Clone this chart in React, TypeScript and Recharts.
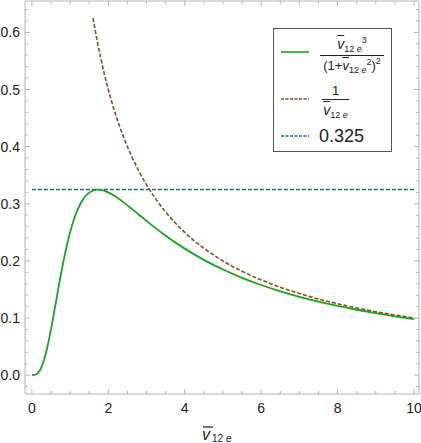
import React from "react";
import { LineChart, Line, XAxis, YAxis, Legend } from "recharts";

// values
const greenV = [0, 0.1, 0.2, 0.3, 0.4, 0.5, 0.6, 0.7, 0.8, 0.9, 1.0, 1.1, 1.2, 1.3, 1.4, 1.5, 1.6, 1.7, 1.8, 1.9, 2.0, 2.2, 2.4, 2.6, 2.8, 3.0, 3.5, 4.0, 4.5, 5.0, 5.5, 6.0, 6.5, 7.0, 7.5, 8.0, 8.5, 9.0, 9.5, 10];
const greenY = [0, 0.001, 0.0074, 0.0227, 0.0476, 0.08, 0.1168, 0.1545, 0.1904, 0.2225, 0.25, 0.2725, 0.2902, 0.3036, 0.3132, 0.3195, 0.3232, 0.3247, 0.3244, 0.3227, 0.32, 0.3122, 0.3025, 0.2919, 0.2809, 0.27, 0.2442, 0.2215, 0.2018, 0.1849, 0.1704, 0.1578, 0.1468, 0.1372, 0.1287, 0.1212, 0.1145, 0.1084, 0.103, 0.098];

const brownV = [1.6, 1.7, 1.8, 1.9, 2.0, 2.2, 2.4, 2.6, 2.8, 3.0, 3.25, 3.5, 3.75, 4.0, 4.5, 5.0, 5.5, 6.0, 6.5, 7.0, 7.5, 8.0, 8.5, 9.0, 9.5, 10];
const brownY = [0.625, 0.5882, 0.5556, 0.5263, 0.5, 0.4545, 0.4167, 0.3846, 0.3571, 0.3333, 0.3077, 0.2857, 0.2667, 0.25, 0.2222, 0.2, 0.1818, 0.1667, 0.1538, 0.1429, 0.1333, 0.125, 0.1176, 0.1111, 0.1053, 0.1];

const flatV = [0, 10];
const flatY = [0.325, 0.325];

const xTicks = [0, 0.5, 1, 1.5, 2, 2.5, 3, 3.5, 4, 4.5, 5, 5.5, 6, 6.5, 7, 7.5, 8, 8.5, 9, 9.5, 10];
const yTicks = [-0.02, 0, 0.02, 0.04, 0.06, 0.08, 0.1, 0.12, 0.14, 0.16, 0.18, 0.2, 0.22, 0.24, 0.26, 0.28, 0.3, 0.32, 0.34, 0.36, 0.38, 0.4, 0.42, 0.44, 0.46, 0.48, 0.5, 0.52, 0.54, 0.56, 0.58, 0.6, 0.62, 0.64];

const greenData = greenV.map((v, i) => ({ v, y: greenY[i] }));
const brownData = brownV.map((v, i) => ({ v, y: brownY[i] }));
const flatData = flatV.map((v, i) => ({ v, y: flatY[i] }));

const FRAME = "#b4b4b4";
const GREEN = "#1fa01f";
const BROWN = "#8b4a1a";
const TEAL = "#1d6b78";
const FONT = "'Liberation Sans', Arial, sans-serif";

const isMult = (v: number, step: number) => Math.abs(v / step - Math.round(v / step)) < 1e-6;

// side: which frame edge, ticks point into the plot
const FrameTick = (props: any) => {
  const { x, y, payload, side } = props;
  const v = payload.value;
  const major = side === "bottom" || side === "top" ? isMult(v, 2) : isMult(v, 0.1);
  const len = major ? 5 : 3;
  let line;
  let label = null;
  if (side === "bottom") {
    line = <line x1={x} y1={y} x2={x} y2={y - len} stroke={FRAME} />;
    if (major)
      label = (
        <text x={x} y={y + 14} textAnchor="middle" dominantBaseline="central" fontSize={14} fontFamily={FONT} fill="#222">
          {v}
        </text>
      );
  } else if (side === "top") {
    line = <line x1={x} y1={y} x2={x} y2={y + len} stroke={FRAME} />;
  } else if (side === "left") {
    line = <line x1={x} y1={y} x2={x + len} y2={y} stroke={FRAME} />;
    if (major && v >= 0)
      label = (
        <text x={x - 5} y={y} textAnchor="end" dominantBaseline="central" fontSize={14} fontFamily={FONT} fill="#222">
          {v.toFixed(1)}
        </text>
      );
  } else {
    line = <line x1={x} y1={y} x2={x - len} y2={y} stroke={FRAME} />;
  }
  return (
    <g>
      {line}
      {label}
    </g>
  );
};

const XLabel = (props: any) => {
  const { viewBox } = props;
  const cx = viewBox.x + viewBox.width / 2 - 20;
  const cy = 440;
  return (
    <g>
      <line x1={cx + 1} y1={cy - 13} x2={cx + 11} y2={cy - 13} stroke="#222" strokeWidth={1.2} />
      <text x={cx} y={cy} fontFamily={FONT} fill="#222">
        <tspan fontSize={16} fontStyle="italic">v</tspan>
        <tspan fontSize={10} dy={2} dx={2}>12 </tspan>
        <tspan fontSize={10} fontStyle="italic">e</tspan>
      </text>
    </g>
  );
};

const VBar = ({ size, sub }: { size: number; sub: number }) => (
  <span>
    <span style={{ fontStyle: "italic", textDecoration: "overline", fontSize: size }}>v</span>
    <span style={{ fontSize: sub, position: "relative", top: 3 }}>
      12 <i>e</i>
    </span>
  </span>
);

const renderLegend = () => (
  <div
    style={{
      position: "relative",
      width: 119,
      height: 124,
      border: "1px solid #555",
      background: "#fff",
      fontFamily: FONT,
      color: "#222",
      boxSizing: "border-box",
    }}
  >
    <svg width={40} height={123} style={{ position: "absolute", left: 0, top: 0 }}>
      <line x1={7} y1={23} x2={35} y2={23} stroke={GREEN} strokeWidth={1.6} />
      <line x1={7} y1={70} x2={35} y2={70} stroke={BROWN} strokeWidth={1.4} strokeDasharray="3 1.5" />
      <line x1={7} y1={107} x2={35} y2={107} stroke={TEAL} strokeWidth={1.4} strokeDasharray="3 1.5" />
    </svg>
    <div style={{ position: "absolute", left: 46, top: 7, width: 64, display: "flex", flexDirection: "column", alignItems: "center", lineHeight: 1 }}>
      <div style={{ paddingBottom: 3, whiteSpace: "nowrap" }}>
        <VBar size={14} sub={9} />
        <span style={{ fontSize: 9, position: "relative", top: -6 }}>3</span>
      </div>
      <div style={{ borderTop: "1px solid #222", width: "100%", textAlign: "center", paddingTop: 3, whiteSpace: "nowrap", fontSize: 13 }}>
        (1+<VBar size={13} sub={9} />
        <span style={{ fontSize: 9, position: "relative", top: -5 }}>2</span>)
        <span style={{ fontSize: 9, position: "relative", top: -6 }}>2</span>
      </div>
    </div>
    <div style={{ position: "absolute", left: 48, top: 55, width: 27, display: "flex", flexDirection: "column", alignItems: "center", lineHeight: 1 }}>
      <div style={{ fontSize: 13, paddingBottom: 2 }}>1</div>
      <div style={{ borderTop: "1px solid #222", width: "100%", textAlign: "center", paddingTop: 2, whiteSpace: "nowrap" }}>
        <VBar size={14} sub={9} />
      </div>
    </div>
    <div style={{ position: "absolute", left: 45, top: 98, fontSize: 18, lineHeight: 1 }}>0.325</div>
  </div>
);

export default function App() {
  return (
    <div style={{ position: "absolute", left: 0, top: 0, background: "#fff" }}>
      <LineChart width={421} height={443} margin={{ top: 0, right: 1, bottom: 48, left: 24 }}>
        <XAxis
          xAxisId="b"
          dataKey="v"
          type="number"
          domain={[-0.18, 10.13]}
          ticks={xTicks}
          interval={0}
          height={1}
          tickSize={0}
          tickMargin={0}
          stroke={FRAME}
          tick={<FrameTick side="bottom" />}
          label={<XLabel />}
          allowDataOverflow
        />
        <XAxis
          xAxisId="t"
          orientation="top"
          dataKey="v"
          type="number"
          domain={[-0.18, 10.13]}
          ticks={xTicks}
          interval={0}
          height={1}
          tickSize={0}
          tickMargin={0}
          stroke={FRAME}
          tick={<FrameTick side="top" />}
          allowDataOverflow
        />
        <YAxis
          yAxisId="l"
          type="number"
          domain={[-0.033, 0.655]}
          ticks={yTicks}
          interval={0}
          width={1}
          tickSize={0}
          tickMargin={0}
          stroke={FRAME}
          tick={<FrameTick side="left" />}
          allowDataOverflow
        />
        <YAxis
          yAxisId="r"
          orientation="right"
          type="number"
          domain={[-0.033, 0.655]}
          ticks={yTicks}
          interval={0}
          width={1}
          tickSize={0}
          tickMargin={0}
          stroke={FRAME}
          tick={<FrameTick side="right" />}
          allowDataOverflow
        />
        <Line xAxisId="b" yAxisId="l" data={flatData} dataKey="y" stroke={TEAL} strokeWidth={1.4} strokeDasharray="4 2" dot={false} isAnimationActive={false} />
        <Line xAxisId="b" yAxisId="l" data={brownData} dataKey="y" stroke={BROWN} strokeWidth={1.6} strokeDasharray="4 2" dot={false} type="monotone" isAnimationActive={false} />
        <Line xAxisId="b" yAxisId="l" data={greenData} dataKey="y" stroke={GREEN} strokeWidth={1.8} dot={false} type="monotone" isAnimationActive={false} />
        <Legend
          layout="vertical"
          align="center"
          verticalAlign="middle"
          content={renderLegend}
          wrapperStyle={{ position: "absolute", left: 273, top: 28, width: 119, height: 124 }}
        />
      </LineChart>
    </div>
  );
}
